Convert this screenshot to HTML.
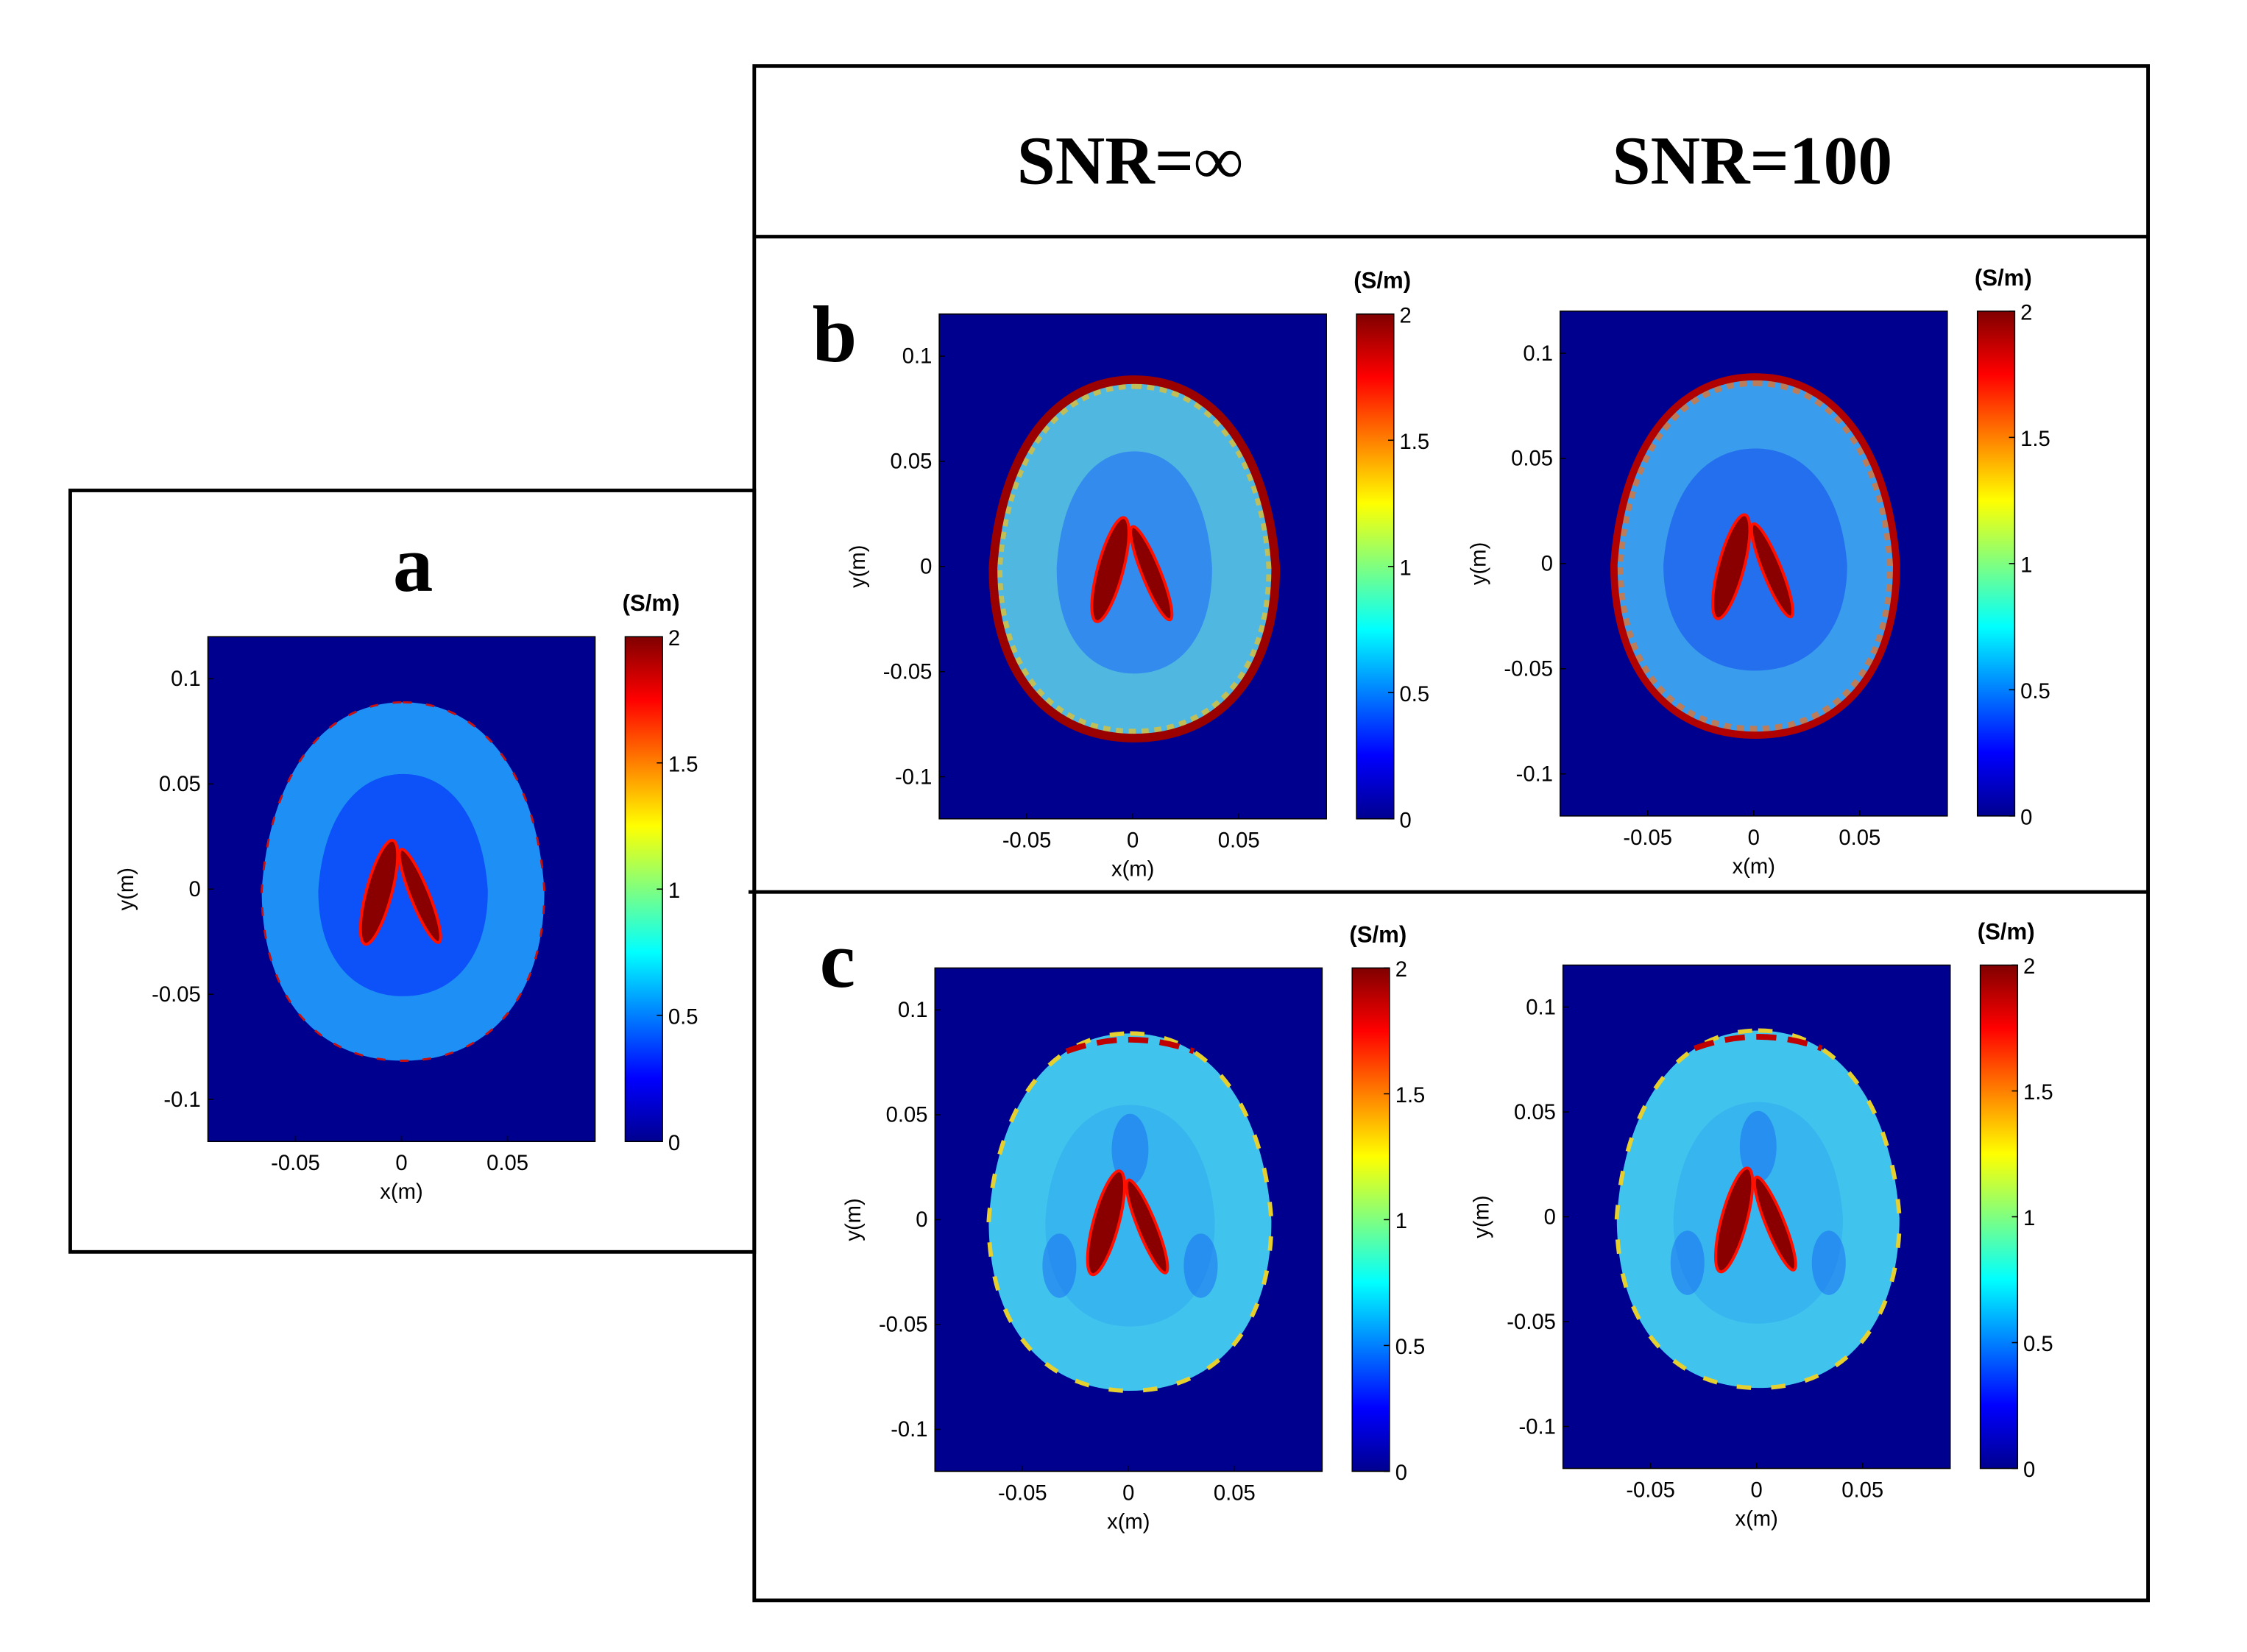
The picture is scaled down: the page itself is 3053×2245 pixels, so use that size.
<!DOCTYPE html>
<html><head><meta charset="utf-8"><style>
html,body{margin:0;padding:0;background:#fff;}
svg{display:block;}
text{font-family:"Liberation Sans",sans-serif;}
.t{font-family:"Liberation Serif",serif;font-weight:bold;}
</style></head><body>
<svg id="fig" width="3053" height="2245" viewBox="0 0 1567 1152" preserveAspectRatio="none" xmlns="http://www.w3.org/2000/svg">
<defs>
<linearGradient id="jet" x1="0" y1="1" x2="0" y2="0">
<stop offset="0" stop-color="#00008f"/><stop offset="0.125" stop-color="#0000ff"/>
<stop offset="0.375" stop-color="#00ffff"/><stop offset="0.625" stop-color="#ffff00"/>
<stop offset="0.875" stop-color="#ff0000"/><stop offset="1" stop-color="#800000"/>
</linearGradient>
</defs>
<rect x="49" y="342" width="477" height="531" fill="none" stroke="#000" stroke-width="2.5"/>
<rect x="526" y="46" width="972" height="1070" fill="none" stroke="#000" stroke-width="2.5"/>
<line x1="526" y1="165" x2="1498" y2="165" stroke="#000" stroke-width="2.5"/>
<line x1="522" y1="622" x2="1498" y2="622" stroke="#000" stroke-width="2.5"/>
<text class="t" x="788" y="128" font-size="48" text-anchor="middle">SNR=∞</text>
<text class="t" x="1222" y="128" font-size="48" text-anchor="middle">SNR=100</text>
<text class="t" x="288" y="412" font-size="56" text-anchor="middle">a</text>
<text class="t" x="582" y="252" font-size="56" text-anchor="middle">b</text>
<text class="t" x="584" y="688" font-size="56" text-anchor="middle">c</text>
<g id="panels"></g>
</svg>
<script>
const xTicks = [-0.05, 0, 0.05];
const xTickLabels = ["-0.05", "0", "0.05"];
const yTicks = [0.1, 0.05, 0, -0.05, -0.1];
const yTickLabels = ["0.1", "0.05", "0", "-0.05", "-0.1"];
const cbTicks = [0, 0.5, 1, 1.5, 2];
const cbTickLabels = ["0", "0.5", "1", "1.5", "2"];
const xRange = [-0.0913, 0.0913];
const yRange = [-0.12, 0.12];
const cbRange = [0, 2];
const panelNames = ["a", "b-inf", "b-100", "c-inf", "c-100"];
const panelStyles = ["a", "b1", "b2", "c", "c"];

const NS = "http://www.w3.org/2000/svg";
const root = document.getElementById("panels");
function el(tag, attrs, parent) {
  const e = document.createElementNS(NS, tag);
  for (const k in attrs) e.setAttribute(k, attrs[k]);
  (parent || root).appendChild(e);
  return e;
}
const layouts = [
  [145, 444, 270, 352, 436],
  [655, 219, 270, 352, 946],
  [1088, 217, 270, 352, 1379],
  [652, 675, 270, 351, 943],
  [1090, 673, 270, 351, 1381]
];
function eggPath(cx, cy, rx, ry) {
  const t = cy - ry, b = cy + ry;
  return `M${cx},${t} C${cx+0.6*rx},${t} ${cx+0.95*rx},${cy-0.55*ry} ${cx+rx},${cy+0.05*ry} C${cx+rx},${cy+0.65*ry} ${cx+0.6*rx},${b} ${cx},${b} C${cx-0.6*rx},${b} ${cx-rx},${cy+0.65*ry} ${cx-rx},${cy+0.05*ry} C${cx-0.95*rx},${cy-0.55*ry} ${cx-0.6*rx},${t} ${cx},${t} Z`;
}
layouts.forEach((L, i) => {
  const [x0, y0, w, h, cbx] = L;
  const style = panelStyles[i];
  const g = el("g", {});
  
  
  const sx = v => x0 + (v - xRange[0]) / (xRange[1] - xRange[0]) * w;
  const sy = v => y0 + h - (v - yRange[0]) / (yRange[1] - yRange[0]) * h;
  const sc = v => y0 + h - (v - cbRange[0]) / (cbRange[1] - cbRange[0]) * h;
  const bg = el("rect", {x: x0, y: y0, width: w, height: h, fill: "#00008f"}, g);
  
  
  const cx = x0 + w * 0.504, cy = y0 + h * 0.485, rx = w * 0.365, ry = h * 0.355;
  const brain = el("g", {}, g);
  
  
  let outer, inner, rim, rimW, innerS, innerO;
  if (style === "a") { outer = "#1e90f5"; inner = "#0a48f8"; rim = "#c81010"; rimW = 1.5; innerS = 0.6; innerO = 0.85; }
  else if (style === "b1") { outer = "#50b8e0"; inner = "#2a80f0"; rim = "#9a0000"; rimW = 6; innerS = 0.55; innerO = 0.8; }
  else if (style === "b2") { outer = "#3a9cec"; inner = "#1a5cf0"; rim = "#b00000"; rimW = 5; innerS = 0.65; innerO = 0.7; }
  else { outer = "#40c4ee"; inner = "#2ea6f0"; rim = "#e6d030"; rimW = 3; innerS = 0.6; innerO = 0.5; }
  el("path", {d: eggPath(cx, cy, rx, ry), fill: outer}, brain);
  if (style === "b1" || style === "b2") el("path", {d: eggPath(cx, cy, rx - 4, ry - 4), fill: "none", stroke: style === "b1" ? "#f0c020" : "#f07020", "stroke-width": 5, "stroke-dasharray": "5 4", opacity: 0.7}, brain);
  el("path", {d: eggPath(cx, cy + ry * 0.02, rx * innerS, ry * 0.62), fill: inner, opacity: innerO}, brain);
  if (style === "c") {
    el("ellipse", {cx: cx, cy: cy - ry * 0.35, rx: rx * 0.13, ry: ry * 0.2, fill: "#1a70f0", opacity: 0.55}, brain);
    el("ellipse", {cx: cx - rx * 0.5, cy: cy + ry * 0.3, rx: rx * 0.12, ry: ry * 0.18, fill: "#1a70f0", opacity: 0.55}, brain);
    el("ellipse", {cx: cx + rx * 0.5, cy: cy + ry * 0.3, rx: rx * 0.12, ry: ry * 0.18, fill: "#1a70f0", opacity: 0.55}, brain);
  }
  el("path", {d: eggPath(cx, cy, rx, ry), fill: "none", stroke: rim, "stroke-width": rimW, "stroke-dasharray": style === "a" ? "6 10" : (style === "c" ? "10 14" : "none")}, brain);
  if (style === "c") el("path", {d: "M" + (cx - rx * 0.45) + "," + (cy - ry * 0.9) + " Q" + cx + "," + (cy - ry * 1.03) + " " + (cx + rx * 0.45) + "," + (cy - ry * 0.9), fill: "none", stroke: "#c00000", "stroke-width": 4, "stroke-dasharray": "14 8"}, brain);
  const vc = "#8a0000", vrim = "#ff1000";
  el("ellipse", {cx: cx - rx * 0.17, cy: cy + ry * 0.06, rx: rx * 0.09, ry: ry * 0.3, fill: vc, stroke: vrim, "stroke-width": 2, transform: `rotate(15 ${cx - rx * 0.17} ${cy + ry * 0.06})`}, brain);
  el("ellipse", {cx: cx + rx * 0.12, cy: cy + ry * 0.08, rx: rx * 0.065, ry: ry * 0.28, fill: vc, stroke: vrim, "stroke-width": 2, transform: `rotate(-22 ${cx + rx * 0.12} ${cy + ry * 0.08})`}, brain);
  el("rect", {x: x0, y: y0, width: w, height: h, fill: "none", stroke: "#000", "stroke-width": 0.8}, g);
  xTicks.forEach((v, k) => {
    const X = sx(v);
    el("line", {x1: X, y1: y0 + h, x2: X, y2: y0 + h - 4, stroke: "#000", "stroke-width": 0.8}, g);
    const t = el("text", {x: X, y: y0 + h + 20, "font-size": 15, "text-anchor": "middle"}, g);
    t.textContent = xTickLabels[k];
    
    
  });
  yTicks.forEach((v, k) => {
    const Y = sy(v);
    el("line", {x1: x0, y1: Y, x2: x0 + 4, y2: Y, stroke: "#000", "stroke-width": 0.8}, g);
    const t = el("text", {x: x0 - 5, y: Y + 5, "font-size": 15, "text-anchor": "end"}, g);
    t.textContent = yTickLabels[k];
    
    
  });
  const xl = el("text", {x: x0 + w * 0.5, y: y0 + h + 40, "font-size": 15, "text-anchor": "middle"}, g);
  xl.textContent = "x(m)";
  
  
  const yx = x0 - 52, yy = y0 + h * 0.5;
  const yl = el("text", {x: yx, y: yy, "font-size": 15, "text-anchor": "middle", transform: `rotate(-90 ${yx} ${yy})`}, g);
  yl.textContent = "y(m)";
  
  
  const cb = el("rect", {x: cbx, y: y0, width: 26, height: h, fill: "url(#jet)", stroke: "#000", "stroke-width": 0.8}, g);
  
  
  cbTicks.forEach((v, k) => {
    const Y = sc(v);
    el("line", {x1: cbx + 22, y1: Y, x2: cbx + 26, y2: Y, stroke: "#000", "stroke-width": 0.8}, g);
    const t = el("text", {x: cbx + 30, y: Y + 6, "font-size": 15}, g);
    t.textContent = cbTickLabels[k];
    
    
  });
  const u = el("text", {x: cbx + 18, y: y0 - 18, "font-size": 16, "font-weight": "bold", "text-anchor": "middle"}, g);
  u.textContent = "(S/m)";
  
  
});
</script>
</body></html>
